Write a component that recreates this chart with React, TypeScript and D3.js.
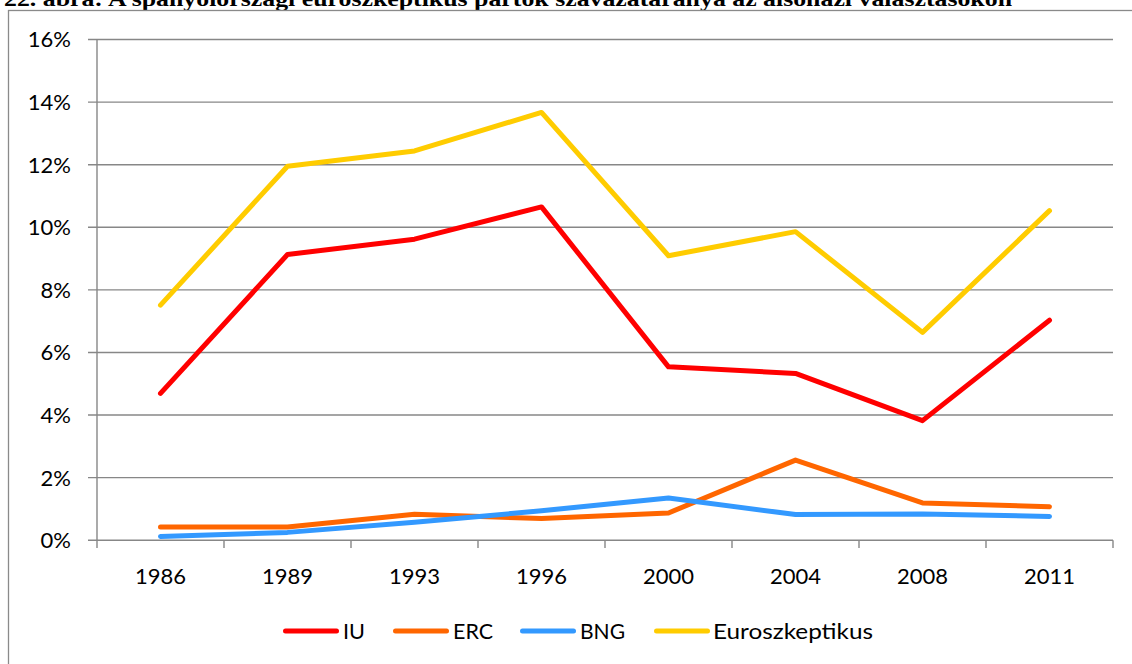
import React from "react";
import * as d3 from "d3";

const years = ["1986", "1989", "1993", "1996", "2000", "2004", "2008", "2011"];
const iu = [4.69, 9.13, 9.62, 10.65, 5.54, 5.33, 3.82, 7.03];
const erc = [0.42, 0.42, 0.83, 0.69, 0.87, 2.56, 1.19, 1.07];
const bng = [0.12, 0.25, 0.57, 0.94, 1.35, 0.82, 0.84, 0.76];
const euro = [7.51, 11.95, 12.44, 13.67, 9.09, 9.86, 6.64, 10.53];
const yTicks = [0, 2, 4, 6, 8, 10, 12, 14, 16];
const seriesNames = ["IU", "ERC", "BNG", "Euroszkeptikus"];
const seriesColors = ["#FF0000", "#FF6600", "#3399FF", "#FFCC00"];
const title =
  "22. ábra: A spanyolországi euroszkeptikus pártok szavazataránya az alsóházi választásokon";

const W = 1132;
const H = 664;
const left = 97;
const right = 1113;
const top = 39.5;
const bottom = 540.2;
const grid = "#878787";
const font = "Lato, 'Open Sans', sans-serif";

// legend layout (pixel positions of each entry: line start, text start, text width)
const legendLineX = [283, 393, 520, 654];
const legendTextX = [343, 453, 580, 713];
const legendTextW = [22, 40, 45, 160];

export default function App() {
  const x = d3.scaleBand<string>().domain(years).range([left, right]);
  const y = d3.scaleLinear().domain([0, 16]).range([bottom, top]);
  const series = [iu, erc, bng, euro];
  const line = d3
    .line<number>()
    .x((_, i) => (x(years[i]) as number) + x.bandwidth() / 2)
    .y((d) => y(d));

  const boundaries = d3.range(years.length + 1).map((i) => left + i * x.bandwidth());

  return (
    <svg
      width={W}
      height={H}
      style={{ position: "absolute", left: 0, top: 0, background: "#fff" }}
    >
      <text
        x={4}
        y={5.5}
        fontFamily="'Liberation Serif', 'Times New Roman', serif"
        fontWeight="bold"
        fontSize={21}
        textLength={1008}
        lengthAdjust="spacingAndGlyphs"
        fill="#000"
      >
        {title}
      </text>
      <rect
        x={8.5}
        y={10.5}
        width={1140}
        height={700}
        fill="none"
        stroke="#8a8a8a"
        strokeWidth={1.3}
      />
      {yTicks.map((t) => (
        <g key={t}>
          <line x1={88} x2={right} y1={y(t)} y2={y(t)} stroke={grid} strokeWidth={1.4} />
          <text
            x={71}
            y={y(t)}
            dy="0.36em"
            textAnchor="end"
            fontFamily={font}
            fontSize={22}
            fill="#000"
          >
            {t}%
          </text>
        </g>
      ))}
      <line x1={left} x2={left} y1={top} y2={bottom} stroke={grid} strokeWidth={1.4} />
      {boundaries.map((b, i) => (
        <line key={i} x1={b} x2={b} y1={bottom} y2={548} stroke={grid} strokeWidth={1.4} />
      ))}
      {years.map((yr) => (
        <text
          key={yr}
          x={(x(yr) as number) + x.bandwidth() / 2}
          y={583.5}
          textAnchor="middle"
          fontFamily={font}
          fontSize={22}
          fill="#000"
        >
          {yr}
        </text>
      ))}
      {series.map((s, i) => (
        <path
          key={seriesNames[i]}
          d={line(s) as string}
          fill="none"
          stroke={seriesColors[i]}
          strokeWidth={5}
          strokeLinejoin="round"
          strokeLinecap="round"
        />
      ))}
      {seriesNames.map((n, i) => (
        <g key={n}>
          <line
            x1={legendLineX[i] + 2.5}
            x2={legendLineX[i] + 53.5}
            y1={631}
            y2={631}
            stroke={seriesColors[i]}
            strokeWidth={5}
            strokeLinecap="round"
          />
          <text
            x={legendTextX[i]}
            y={638.5}
            fontFamily={font}
            fontSize={20.5}
            textLength={legendTextW[i]}
            lengthAdjust="spacingAndGlyphs"
            fill="#000"
          >
            {n}
          </text>
        </g>
      ))}
    </svg>
  );
}
